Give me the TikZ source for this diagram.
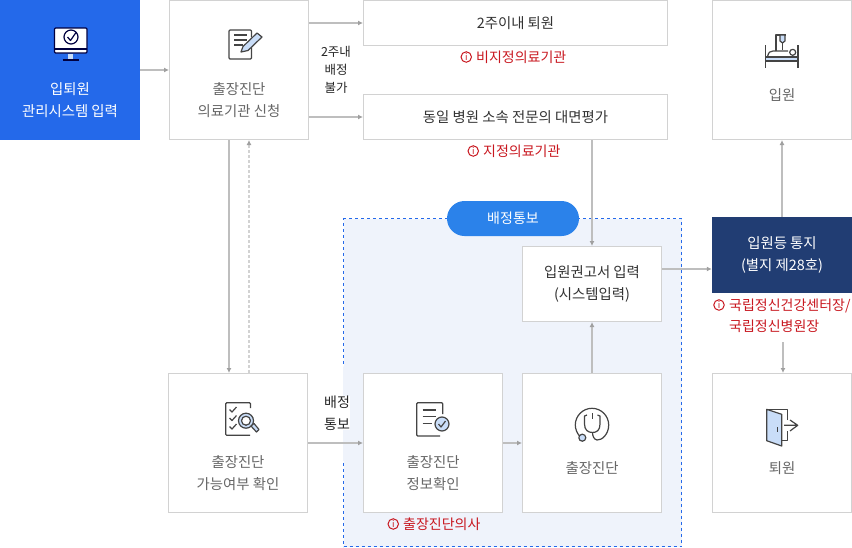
\documentclass[tikz,border=0pt]{standalone}
\usepackage{fontspec}
\setmainfont{Noto Sans CJK KR}
\usetikzlibrary{arrows.meta,positioning}
\definecolor{BoxLine}{HTML}{D2D2D2}
\definecolor{ArrowLine}{HTML}{BEBEBE}
\definecolor{ArrowTip}{HTML}{A0A0A0}
\definecolor{StartBlue}{HTML}{2469EA}
\definecolor{NoticeNavy}{HTML}{213D73}
\definecolor{PillBlue}{HTML}{2B82EA}
\definecolor{RegionFill}{HTML}{EFF3FB}
\definecolor{RegionLine}{HTML}{2469EA}
\definecolor{NoteRed}{HTML}{C8171F}
\definecolor{IconDark}{HTML}{444444}
\definecolor{IconLight}{HTML}{C9DDF8}
\tikzset{
  every node/.style={
    font=\fontsize{14.4}{21.3}\selectfont,
    inner sep=0pt
  },
  whitebox/.style n args={2}{
    shape=rectangle,
    draw=BoxLine,
    line width=1pt,
    fill=white,
    minimum width=#1,
    minimum height=#2
  },
  solidbox/.style n args={3}{
    shape=rectangle,
    fill=#3,
    minimum width=#1,
    minimum height=#2
  },
  boxtext/.style={
    text=black!60,
    align=center
  },
  darktext/.style={
    text=black!80,
    align=center
  },
  whitetext/.style={
    text=white,
    align=center
  },
  sidetext/.style={
    font=\fontsize{12.5}{18}\selectfont,
    text=black!85,
    align=center
  },
  notetext/.style={
    font=\fontsize{14}{21}\selectfont,
    text=NoteRed,
    align=left
  },
  infodot/.style={
    shape=circle,
    draw=NoteRed,
    line width=1pt,
    minimum size=10.5pt,
    text=NoteRed,
    font=\fontsize{9}{9}\selectfont
  },
  flow/.style={
    draw=ArrowLine,
    line width=1.4pt,
    -{Latex[length=5pt,width=5pt,color=ArrowTip]}
  },
  iconline/.style={
    draw=IconDark,
    line width=1.2pt,
    line join=round
  },
  iconfill/.style={
    iconline,
    fill=IconLight
  }
}
\begin{document}
\begin{tikzpicture}[x=1pt,y=-1pt]
\useasboundingbox (0,0) rectangle (852,547);

% region behind the lower boxes
\node [shape=rectangle,draw=RegionLine,fill=RegionFill,dashed,line width=0.8pt,
  minimum width=338pt,minimum height=328pt] (region) at (512.5,382.5) {};
\draw [RegionFill,line width=1.4pt] (343.5,367) -- (343.5,461);
\node [solidbox={132pt}{35pt}{PillBlue},rounded corners=17.5pt] (pill) at (513,218.5) {};
\node [whitetext,font=\fontsize{14}{21}\selectfont] (pilltext) at (pill) {배정통보};

% boxes
\node [solidbox={140pt}{140pt}{StartBlue}] (start) at (70,70) {};
\node [whitebox={139pt}{139pt}] (apply) at (239,70) {};
\node [whitebox={304pt}{45pt},darktext] (within) at (515.5,23) {2주이내 퇴원};
\node [whitebox={304pt}{45pt},darktext] (same) at (515.5,117) {동일 병원 소속 전문의 대면평가};
\node [whitebox={139pt}{139pt}] (admit) at (782,70) {};
\node [whitebox={139pt}{75pt},darktext] (recommend) at (592,284) {\raisebox{-1.5pt}{입원권고서 입력}\\\raisebox{-1.5pt}{(시스템입력)}};
\node [solidbox={140pt}{76pt}{NoticeNavy},whitetext] (notice) at (782,255) {입원등 통지\\(별지 제28호)};
\node [whitebox={139pt}{139pt}] (check) at (238,443) {};
\node [whitebox={139pt}{139pt}] (info) at (433,443) {};
\node [whitebox={139pt}{139pt}] (diag) at (592,443) {};
\node [whitebox={139pt}{139pt}] (leave) at (782,443) {};

% box texts
\node [whitetext] (starttext) at (70,100) {입퇴원\\관리시스템 입력};
\node [boxtext] (applytext) at (239,100) {출장진단\\의료기관 신청};
\node [boxtext] (admittext) at (782,95) {입원};
\node [boxtext] (checktext) at (238,473) {출장진단\\가능여부 확인};
\node [boxtext] (infotext) at (433,473) {출장진단\\정보확인};
\node [boxtext] (diagtext) at (592,468) {출장진단};
\node [boxtext] (leavetext) at (782,468) {퇴원};

% side texts
\node [sidetext] (nobed) at (336,70) {2주내\\배정\\불가};
\node [sidetext,font=\fontsize{14}{22}\selectfont,fill=white] (send) at (337,413) {배정\\통보};

% red notes
\node [notetext,anchor=west] (note1) at (476,57) {비지정의료기관};
\node [infodot,left=4pt of note1] (dot1) {i};
\node [notetext,anchor=west] (note2) at (483,151) {지정의료기관};
\node [infodot,left=4pt of note2] (dot2) {i};
\node [notetext,anchor=north west] (note3) at (729,298.5) {국립정신건강센터장/\\국립정신병원장};
\node [infodot] (dot3) at (719,305) {i};
\node [notetext,anchor=west] (note4) at (403,524) {출장진단의사};
\node [infodot,left=4pt of note4] (dot4) {i};

% connectors
\coordinate (leavefrom) at (783,342);
\draw [flow] (start.east |- 0,70) -- (apply.west |- 0,70);
\draw [flow] (apply.east |- within) -- (within.west);
\draw [flow] (apply.east |- same) -- (same.west);
\draw [flow] (229,140) -- (229,373);
\draw [flow,densely dashed,draw=BoxLine] (249,373) -- (249,140);
\draw [flow] (592,140) -- (recommend.north);
\draw [flow] (recommend.east |- 0,269) -- (notice.west |- 0,269);
\draw [flow] (notice.north) -- (admit.south);
\draw [flow] (leavefrom) -- (leave.north -| leavefrom);
\draw [flow] (check.east) -- (info.west);
\draw [flow] (info.east) -- (diag.west);
\draw [flow] (diag.north) -- (recommend.south);

% monitor
\draw [iconline,draw=black!75!blue,fill=white,rounded corners=1pt] (54.5,28) rectangle (87,53);
\draw [iconline,draw=black!75!blue] (54.5,49) -- (87,49);
\draw [iconline,draw=black!75!blue] (71,37) circle (7);
\draw [iconline,draw=black!75!blue] (67.5,37) -- (70.5,40.5) -- (76,32.5);
\fill [IconLight] (68,53.5) rectangle (73,60);
\draw [iconline,draw=black!75!blue] (62.5,60) -- (78.5,60);

% document and pencil
\draw [iconline,rounded corners=1pt] (251.5,40) -- (251.5,59) -- (229,59) -- (229,30) -- (251.5,30) -- (251.5,37);
\draw [iconline] (234,35) -- (247,35) (234,40) -- (247,40) (234,45) -- (243,45);
\draw [iconfill] (241,52) -- (243,46.5) -- (257,33) -- (262,37) -- (248,50.5) -- cycle;

% bed
\draw [iconline] (765.7,45) -- (765.7,68) (798,45) -- (798,68);
\draw [iconfill] (765.7,57) rectangle (798,61);
\draw [iconline] (767.7,56) .. controls (768.5,52.5) and (770,51) .. (773,51) -- (788,51);
\draw [iconline] (792.7,52.3) circle (3);
\draw [iconline] (776,51) -- (776,35) -- (786,35);
\draw [iconfill] (780,35) -- (785,35) -- (785,41) -- (782.5,43) -- (780,41) -- cycle;
\draw [iconline] (782.5,43) -- (782.5,50);

% checklist and magnifier
\draw [iconline,rounded corners=1pt] (250.5,408) -- (250.5,402.7) -- (225.7,402.7) -- (225.7,435.3) -- (250,435.3);
\draw [iconline] (229.5,409.5) -- (232,412) -- (236.5,407);
\draw [iconline] (229.5,418) -- (232,420.5) -- (236.5,415.5);
\draw [iconline] (229.5,426.5) -- (232,429) -- (236.5,424);
\draw [iconfill] (246,420.7) circle (7.5);
\draw [iconline,fill=white] (246,420.7) circle (4.5);
\draw [iconfill] (251,426) -- (254,423.5) -- (259,429.5) -- (256.5,432) -- cycle;

% document with check
\draw [iconline,rounded corners=1pt] (442.7,414) -- (442.7,402.7) -- (416.7,402.7) -- (416.7,436) -- (440,436);
\draw [iconline] (422.7,410) -- (436,410) (422.7,416.7) -- (436,416.7) (422.7,423.3) -- (432,423.3);
\draw [iconfill] (442,424) circle (7);
\draw [iconline] (438.5,424) -- (441,427) -- (445.5,421);

% stethoscope
\draw [iconline] (579.5,436) .. controls (577,433) and (575.3,429) .. (575.3,425)
  .. controls (575.3,415.8) and (582.8,408.3) .. (592,408.3)
  .. controls (601.2,408.3) and (608.7,415.8) .. (608.7,425)
  .. controls (608.7,434) and (602,440.5) .. (597,440)
  .. controls (594,439.5) and (592.5,436) .. (592.5,432.5);
\draw [iconline] (587,415) -- (584.5,416) -- (584.5,424) .. controls (584.5,430) and (588,432.5) .. (592.5,432.5)
  .. controls (597,432.5) and (600,430) .. (600,424) -- (600,416) -- (597.5,415);
\draw [iconline] (592.5,413) -- (592.5,419);
\draw [iconfill] (582.3,437.7) circle (3.5);

% door
\draw [iconline] (787.3,420) -- (787.3,409.3) -- (766.7,409.3);
\draw [iconline] (787.3,431) -- (787.3,440.7) -- (781.7,440.7);
\draw [iconfill] (766.7,409.3) -- (781.7,414.3) -- (781.7,446) -- (766.7,440.7) -- cycle;
\draw [iconline] (777.3,427) -- (777.3,431.7);
\draw [iconline] (784,425.3) -- (797.7,425.3) (790,420) -- (797.7,425.3) -- (790,431);

\end{tikzpicture}
\end{document}
